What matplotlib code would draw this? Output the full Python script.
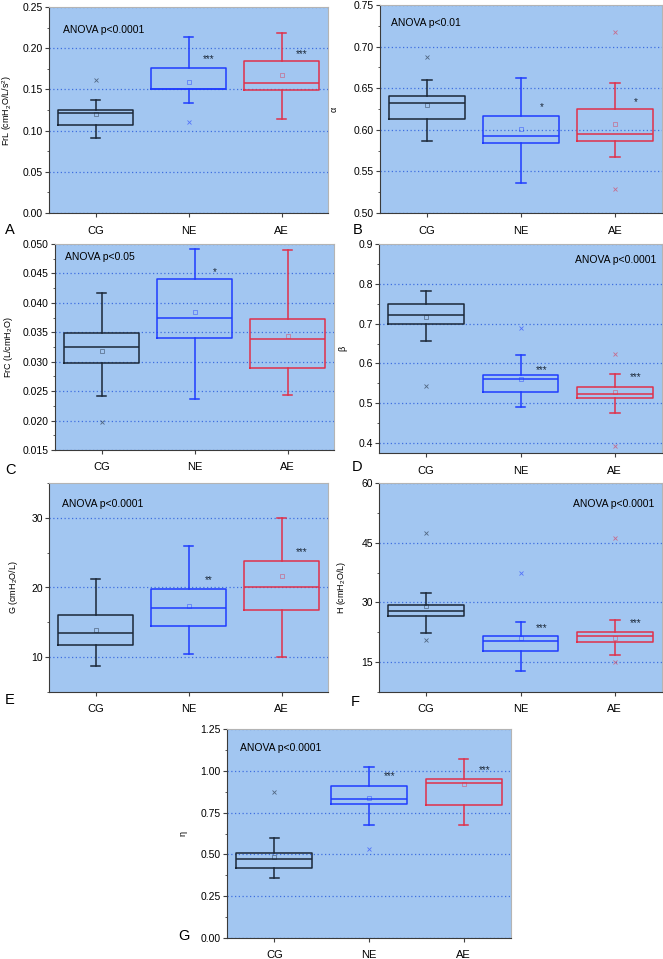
import matplotlib
matplotlib.use("Agg")
import matplotlib.pyplot as plt
from matplotlib.ticker import MultipleLocator, FormatStrFormatter

plt.rcParams['font.family'] = ['Liberation Sans', 'DejaVu Sans']
plt.rcParams['mathtext.fontset'] = 'custom'
plt.rcParams['mathtext.rm'] = 'Liberation Sans'

GROUPS = ['CG', 'NE', 'AE']
COLORS = ['#1b2838', '#1f3cff', '#e0304a']
BG = '#a2c6f1'
GRID = '#3f6fe0'

# each row: whisker low, q1, median, q3, whisker high, mean
FRL = [[0.091, 0.107, 0.121, 0.125, 0.137, 0.120],
       [0.133, 0.1505, 0.150, 0.176, 0.214, 0.159],
       [0.114, 0.149, 0.158, 0.184, 0.219, 0.168]]
FRL_OUT = [[0.161], [0.110], []]
FRL_STARS = ['', '***', '***']
FRL_STAR_Y = [0, 0.190, 0.196]

ALPHA = [[0.586, 0.613, 0.632, 0.641, 0.660, 0.630],
         [0.536, 0.584, 0.593, 0.616, 0.662, 0.601],
         [0.567, 0.587, 0.595, 0.625, 0.656, 0.607]]
ALPHA_OUT = [[0.687], [], [0.717, 0.529]]
ALPHA_STARS = ['', '*', '*']
ALPHA_STAR_Y = [0, 0.630, 0.636]

FRC = [[0.0242, 0.0298, 0.0325, 0.0349, 0.0417, 0.0318],
       [0.0236, 0.0340, 0.0374, 0.0440, 0.0491, 0.0385],
       [0.0243, 0.0290, 0.0339, 0.0373, 0.0489, 0.0343]]
FRC_OUT = [[0.0198], [], []]
FRC_STARS = ['', '*', '']
FRC_STAR_Y = [0, 0.0457, 0]

BETA = [[0.656, 0.700, 0.722, 0.749, 0.782, 0.716],
        [0.491, 0.529, 0.560, 0.571, 0.622, 0.560],
        [0.476, 0.513, 0.524, 0.541, 0.574, 0.529]]
BETA_OUT = [[0.544], [0.690], [0.623, 0.393]]
BETA_STARS = ['', '***', '***']
BETA_STAR_Y = [0, 0.590, 0.571]

G_VAL = [[8.7, 11.7, 13.4, 16.1, 21.2, 13.9],
         [10.5, 14.5, 17.0, 19.8, 25.9, 17.4],
         [10.0, 16.7, 20.1, 23.8, 30.0, 21.7]]
G_OUT = [[], [], []]
G_STARS = ['', '**', '***']
G_STAR_Y = [0, 21.4, 25.4]

H_VAL = [[22.4, 26.5, 27.9, 29.4, 32.4, 29.0],
         [12.8, 17.8, 20.2, 21.5, 25.0, 21.1],
         [16.8, 20.0, 21.5, 22.6, 25.5, 21.1]]
H_OUT = [[47.5, 20.5], [37.4], [46.2, 15.0]]
H_STARS = ['', '***', '***']
H_STAR_Y = [0, 24.3, 25.4]

ETA = [[0.358, 0.416, 0.470, 0.508, 0.601, 0.486],
       [0.675, 0.800, 0.830, 0.912, 1.025, 0.838],
       [0.675, 0.796, 0.926, 0.950, 1.073, 0.921]]
ETA_OUT = [[0.872], [0.531], []]
ETA_STARS = ['', '***', '***']
ETA_STAR_Y = [0, 0.981, 1.019]

W, H = 663, 959
fig = plt.figure(figsize=(W / 100, H / 100), dpi=100)


def px_axes(l, t, r, b):
    return fig.add_axes([l / W, 1 - b / H, (r - l) / W, (b - t) / H])


def draw(ax, stats, outliers, stars, star_y, ylim, major, minor, fmt, ylabel,
         anova, anova_xy, anova_ha, label_x):
    ax.set_facecolor(BG)
    for i, (s, out, col) in enumerate(zip(stats, outliers, COLORS)):
        st = dict(whislo=s[0], q1=s[1], med=s[2], q3=s[3], whishi=s[4],
                  mean=s[5], fliers=out)
        ax.bxp([st], positions=[i + 1], widths=0.8, capwidths=0.1,
               showmeans=True, showfliers=True,
               boxprops=dict(color=col, lw=1.1),
               medianprops=dict(color=col, lw=1.1),
               whiskerprops=dict(color=col, lw=1.1),
               capprops=dict(color=col, lw=1.1),
               meanprops=dict(marker='s', markersize=2.6, markerfacecolor='none',
                              markeredgecolor=col, markeredgewidth=0.5, alpha=0.6),
               flierprops=dict(marker='x', markersize=2.6, markeredgecolor=col,
                               markeredgewidth=0.6, alpha=0.6))
        if stars[i]:
            ax.annotate(stars[i], (i + 1.22, star_y[i]), xytext=(0, -4),
                        textcoords='offset points', ha='center', va='baseline',
                        fontsize=7, color='#1b2838')
    ax.set_xlim(0.5, 3.5)
    ax.set_ylim(*ylim)
    ax.set_xticks([1, 2, 3])
    ax.set_xticklabels(GROUPS, fontsize=8)
    ax.yaxis.set_major_locator(MultipleLocator(major))
    ax.yaxis.set_minor_locator(MultipleLocator(minor))
    ax.yaxis.set_major_formatter(FormatStrFormatter(fmt))
    ax.tick_params(axis='y', which='major', direction='out', length=3,
                   labelsize=7.5, color='#404040', pad=1.5)
    ax.tick_params(axis='y', which='minor', direction='out', length=1.6,
                   color='#404040')
    ax.tick_params(axis='x', direction='out', length=3, pad=6, color='#404040')
    ax.yaxis.grid(True, which='major', linestyle=(0, (1, 2)), color=GRID, lw=0.9)
    ax.set_axisbelow(True)
    for side in ('left', 'bottom'):
        ax.spines[side].set_color('#3a3a3a')
    for side in ('top', 'right'):
        ax.spines[side].set_color('#b4b4b4')
    ax.set_ylabel(ylabel, fontsize=6.5)
    ax.yaxis.set_label_coords(label_x, 0.5)
    ax.text(anova_xy[0], anova_xy[1], anova, transform=ax.transAxes,
            ha=anova_ha, va='center', fontsize=7.5)


ax = px_axes(49, 7, 328, 213)
draw(ax, FRL, FRL_OUT, FRL_STARS, FRL_STAR_Y, (0, 0.25), 0.05, 0.025, '%.2f',
     r'FrL (cmH$_2$O/L/s$^2$)', 'ANOVA p<0.0001', (0.05, 0.89), 'left', -0.125)

ax = px_axes(380, 5, 662, 213)
draw(ax, ALPHA, ALPHA_OUT, ALPHA_STARS, ALPHA_STAR_Y, (0.5, 0.75), 0.05, 0.025,
     '%.2f', 'α', 'ANOVA p<0.01', (0.04, 0.915), 'left', -0.145)

ax = px_axes(55, 244, 334, 450)
draw(ax, FRC, FRC_OUT, FRC_STARS, FRC_STAR_Y, (0.015, 0.050), 0.005, 0.0025,
     '%.3f', r'FrC (L/cmH$_2$O)', 'ANOVA p<0.05', (0.036, 0.937), 'left', -0.145)

ax = px_axes(379, 244, 662, 453)
draw(ax, BETA, BETA_OUT, BETA_STARS, BETA_STAR_Y, (0.375, 0.9), 0.1, 0.05,
     '%.1f', 'β', 'ANOVA p<0.0001', (0.979, 0.923), 'right', -0.11)

ax = px_axes(49, 483, 328, 692)
draw(ax, G_VAL, G_OUT, G_STARS, G_STAR_Y, (5, 35), 10, 5, '%d',
     r'G (cmH$_2$O/L)', 'ANOVA p<0.0001', (0.047, 0.9), 'left', -0.104)

ax = px_axes(379, 483, 662, 692)
draw(ax, H_VAL, H_OUT, H_STARS, H_STAR_Y, (7.5, 60), 15, 7.5, '%d',
     r'H (cmH$_2$O/L)', 'ANOVA p<0.0001', (0.972, 0.9), 'right', -0.11)

ax = px_axes(227, 729, 511, 938)
draw(ax, ETA, ETA_OUT, ETA_STARS, ETA_STAR_Y, (0, 1.25), 0.25, 0.125, '%.2f',
     'η', 'ANOVA p<0.0001', (0.046, 0.91), 'left', -0.14)

for letter, x, y in [('A', 5, 230), ('B', 353, 230), ('C', 5, 470), ('D', 352, 467),
                     ('E', 5, 700), ('F', 351, 702), ('G', 178, 936)]:
    fig.text(x / W, 1 - y / H, letter, fontsize=10.5, ha='left', va='center')

fig.savefig('out.png', dpi=100, facecolor='white')
